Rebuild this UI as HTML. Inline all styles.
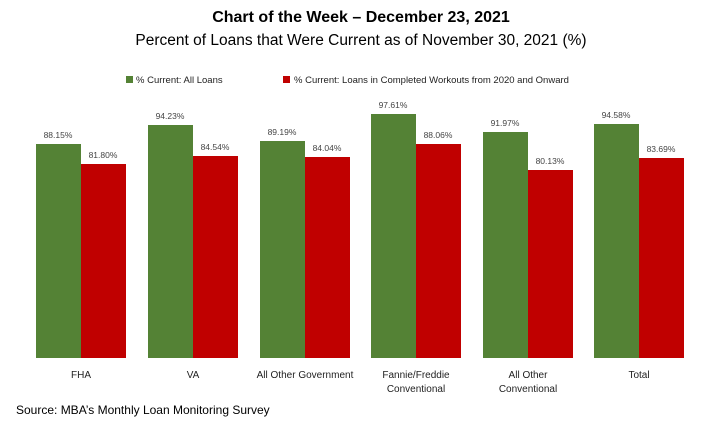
<!DOCTYPE html>
<html><head><meta charset="utf-8"><style>
body{margin:0;background:#fff;}
svg text{font-family:"Liberation Sans",sans-serif;}
</style></head><body>
<svg width="723" height="429" xmlns="http://www.w3.org/2000/svg">
<text x="361" y="22" font-size="16" font-weight="bold" text-anchor="middle" fill="#000">Chart of the Week – December 23, 2021</text>
<text x="361" y="45" font-size="15.5" text-anchor="middle" fill="#000">Percent of Loans that Were Current as of November 30, 2021 (%)</text>
<rect x="126" y="76" width="7" height="7" fill="#548235"/>
<text x="136" y="83" font-size="9.5" fill="#222">% Current:  All Loans</text>
<rect x="283" y="76" width="7" height="7" fill="#c00000"/>
<text x="294" y="83" font-size="9.5" fill="#222">% Current:  Loans in Completed Workouts from 2020 and Onward</text>
<g font-size="8.5" fill="#444" text-anchor="middle">
<rect x="36" y="144" width="45" height="214" fill="#548235"/><rect x="81" y="164" width="45" height="194" fill="#c00000"/>
<text x="58" y="138">88.15%</text><text x="103" y="158">81.80%</text>
<rect x="148" y="125" width="45" height="233" fill="#548235"/><rect x="193" y="156" width="45" height="202" fill="#c00000"/>
<text x="170" y="119">94.23%</text><text x="215" y="150">84.54%</text>
<rect x="260" y="141" width="45" height="217" fill="#548235"/><rect x="305" y="157" width="45" height="201" fill="#c00000"/>
<text x="282" y="135">89.19%</text><text x="327" y="151">84.04%</text>
<rect x="371" y="114" width="45" height="244" fill="#548235"/><rect x="416" y="144" width="45" height="214" fill="#c00000"/>
<text x="393" y="108">97.61%</text><text x="438" y="138">88.06%</text>
<rect x="483" y="132" width="45" height="226" fill="#548235"/><rect x="528" y="170" width="45" height="188" fill="#c00000"/>
<text x="505" y="126">91.97%</text><text x="550" y="164">80.13%</text>
<rect x="594" y="124" width="45" height="234" fill="#548235"/><rect x="639" y="158" width="45" height="200" fill="#c00000"/>
<text x="616" y="118">94.58%</text><text x="661" y="152">83.69%</text>
</g>
<g font-size="10" fill="#222" text-anchor="middle">
<text x="81" y="378">FHA</text>
<text x="193" y="378">VA</text>
<text x="305" y="378">All Other Government</text>
<text x="416" y="378">Fannie/Freddie</text><text x="416" y="392">Conventional</text>
<text x="528" y="378">All Other</text><text x="528" y="392">Conventional</text>
<text x="639" y="378">Total</text>
</g>
<text x="16" y="414" font-size="12" fill="#000">Source:  MBA’s Monthly Loan Monitoring Survey</text>
</svg>
</body></html>
